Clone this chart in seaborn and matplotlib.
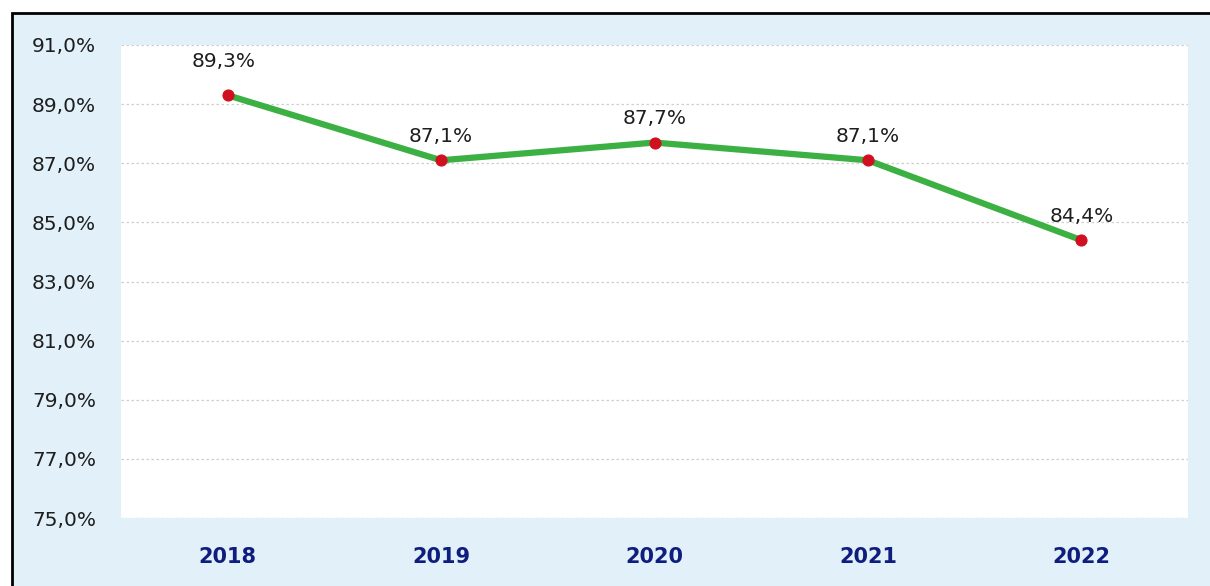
import matplotlib
matplotlib.use('Agg')
import matplotlib.pyplot as plt
import seaborn as sns
import pandas as pd
from matplotlib.patches import Rectangle
from matplotlib.ticker import FuncFormatter

# Datos del grafico
anios = ['2018', '2019', '2020', '2021', '2022']
porcentajes = [89.3, 87.1, 87.7, 87.1, 84.4]
ticks_y = [75, 77, 79, 81, 83, 85, 87, 89, 91]

df = pd.DataFrame({'Anio': anios, 'Porcentaje': porcentajes})

sns.set_theme(style='white')
plt.rcParams['font.family'] = ['DejaVu Sans']

fig = plt.figure(figsize=(12.1, 5.86), dpi=100)
fig.patch.set_facecolor('white')

# Marco azul claro con borde negro
marco = Rectangle((12 / 1210, -0.05), 1.05, 1 - 13 / 586 + 0.05,
                  transform=fig.transFigure, facecolor='#e2f0f9',
                  edgecolor='black', linewidth=2, zorder=-10)
fig.add_artist(marco)

ax = fig.add_axes([121 / 1210, 68 / 586, 1067 / 1210, 473 / 586])
ax.set_facecolor('white')

sns.lineplot(data=df, x='Anio', y='Porcentaje', ax=ax, color='#3cb043',
             linewidth=4.5, marker='o', markersize=8,
             markerfacecolor='#d01020', markeredgecolor='#d01020', zorder=3)

for i, v in enumerate(porcentajes):
    texto = f'{v:.1f}%'.replace('.', ',')
    dy = 24 if i == 0 else 17
    ax.annotate(texto, (i, v), xytext=(-3 if i == 0 else 0, dy),
                textcoords='offset points', ha='center', va='center',
                fontsize=14.5, color='#1e1e1e')

ax.set_xlim(-0.5, len(anios) - 0.5)
ax.set_ylim(75, 91)
ax.set_yticks(ticks_y)
ax.yaxis.set_major_formatter(FuncFormatter(lambda y, p: f'{y:.1f}%'.replace('.', ',')))
ax.grid(axis='y', color='#cfcfcf', linestyle=(0, (2, 2)), linewidth=0.9)
ax.grid(axis='x', visible=False)
for s in ax.spines.values():
    s.set_visible(False)

ax.tick_params(axis='y', length=0, pad=18, labelsize=14.5, labelcolor='#1e1e1e')
ax.tick_params(axis='x', length=0, pad=21, labelsize=15, labelcolor='#0f1d7e')
for lbl in ax.get_xticklabels():
    lbl.set_fontweight('bold')
ax.set_xlabel('')
ax.set_ylabel('')

plt.savefig('out.png', dpi=100)
plt.close()
